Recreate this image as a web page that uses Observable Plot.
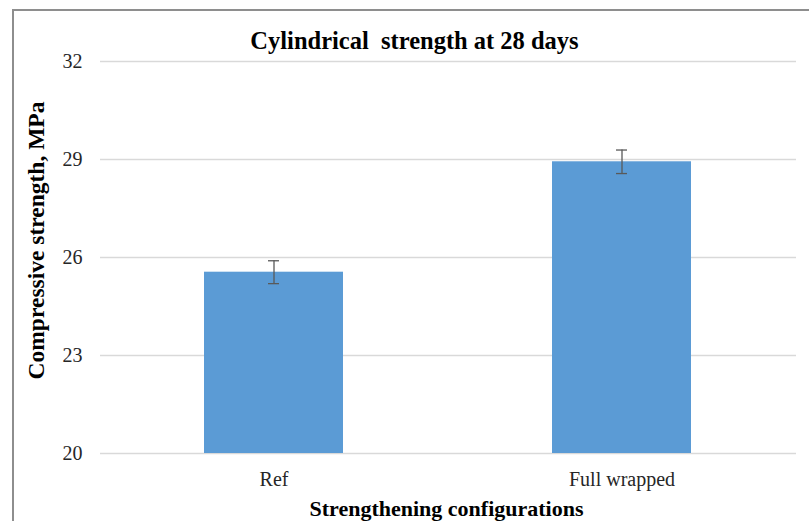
<!DOCTYPE html>
<html>
<head>
<meta charset="utf-8">
<script src="https://cdn.jsdelivr.net/npm/d3@7"></script>
<script src="https://cdn.jsdelivr.net/npm/@observablehq/plot@0.6"></script>
<style>
  html, body { margin: 0; padding: 0; background: #fff; }
  #wrap { position: relative; width: 809px; height: 521px; overflow: hidden; }
  #frame { position: absolute; left: 12px; top: 9px; width: 820px; height: 540px;
           border-top: 2px solid #8e8e8e; border-left: 2px solid #8e8e8e; box-sizing: border-box; }
  #wrap svg { position: absolute; left: 0; top: 0; }
  #wrap svg, #wrap svg text { font-family: "Liberation Serif", "Times New Roman", serif !important; }
</style>
</head>
<body>
<div id="wrap"><div id="frame"></div></div>
<script>
const categories = ["Ref", "Full wrapped"];
const values = [25.55, 28.93];
const errors = [0.35, 0.36];
const yTicks = [20, 23, 26, 29, 32];
const title = "Cylindrical  strength at 28 days";
const xLabel = "Strengthening configurations";
const yLabel = "Compressive strength, MPa";

const data = categories.map((c, i) => ({cat: c, v: values[i], lo: values[i] - errors[i], hi: values[i] + errors[i]}));

const serif = "Liberation Serif";

const chart = Plot.plot({
  width: 809,
  height: 521,
  marginLeft: 100,
  marginRight: 13,
  marginTop: 61,
  marginBottom: 68,
  style: {fontFamily: serif, background: "transparent", overflow: "visible"},
  x: {domain: categories, paddingInner: 0.6, paddingOuter: 0.3},
  y: {domain: [20, 32]},
  marks: [
    Plot.ruleY(yTicks, {stroke: "#d9d9d9", strokeWidth: 1.5}),
    Plot.barY(data, {x: "cat", y1: 20, y2: "v", fill: "#5b9bd5"}),
    Plot.ruleX(data, {x: "cat", y1: "lo", y2: "hi", stroke: "#595959", strokeWidth: 1.3}),
    Plot.tickY(data, {x: "cat", y: "lo", stroke: "#595959", strokeWidth: 1.3, insetLeft: 64, insetRight: 64}),
    Plot.tickY(data, {x: "cat", y: "hi", stroke: "#595959", strokeWidth: 1.3, insetLeft: 64, insetRight: 64}),
    Plot.axisY({ticks: yTicks, tickSize: 0, tickPadding: 18, fontSize: 20, fontFamily: serif, fill: "#262626", label: null}),
    Plot.axisX({tickSize: 0, tickPadding: 18, fontSize: 20, fontFamily: serif, fill: "#262626", label: null}),
    Plot.text([title], {frameAnchor: "top", lineAnchor: "middle", dy: -20, dx: -34, fontSize: 24.5, fontFamily: serif, fontWeight: "bold", fill: "#000"}),
    Plot.text([xLabel], {frameAnchor: "bottom", lineAnchor: "middle", dy: 55, dx: -2, fontSize: 22, fontFamily: serif, fontWeight: "bold", fill: "#000"}),
    Plot.text([yLabel], {frameAnchor: "left", lineAnchor: "middle", textAnchor: "middle", dx: -64, dy: -17, rotate: -90, fontSize: 23.5, fontFamily: serif, fontWeight: "bold", fill: "#000"})
  ]
});
document.getElementById("wrap").appendChild(chart);
</script>
</body>
</html>
